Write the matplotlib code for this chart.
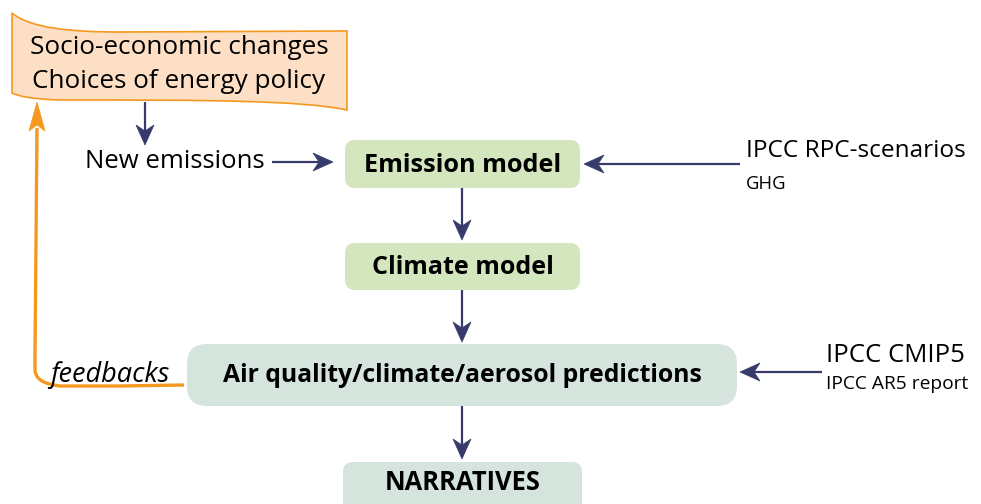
import math
import matplotlib
matplotlib.use("Agg")
import matplotlib.pyplot as plt
from matplotlib.patches import FancyBboxPatch, Polygon, PathPatch
from matplotlib.path import Path

plt.rcParams["font.family"] = ["Open Sans", "DejaVu Sans"]

# ── Content ──────────────────────────────────────────────────────────────────
BANNER_LINES = ["Socio-economic changes", "Choices of energy policy"]
BOX_LABELS = ["Emission model", "Climate model",
              "Air quality/climate/aerosol predictions", "NARRATIVES"]
BOX_COLORS = ["#D3E6BE", "#D3E6BE", "#D5E4DD", "#D5E4DD"]
# box geometry in pixel units: x0, y0, x1, y1
BOX_X0 = [345, 345, 187, 343]
BOX_Y0 = [140, 243, 344, 462]
BOX_X1 = [580, 580, 737, 582]
BOX_Y1 = [188, 290, 406, 520]
BOX_RAD = [10, 10, 20, 10]
BOX_TY = [165, 268, 376, 483]
BOX_FS = [18.2, 18, 17.8, 18.4]

SRC_MAIN = ["IPCC RPC-scenarios", "IPCC CMIP5"]
SRC_SUB = ["GHG", "IPCC AR5 report"]

NAVY = "#373B6C"
ORANGE = "#F5981F"

W, H = 981, 504
fig = plt.figure(figsize=(W / 100, H / 100), dpi=100)
ax = fig.add_axes([0, 0, 1, 1])
ax.set_xlim(0, W)
ax.set_ylim(H, 0)
ax.axis("off")


def arrow(x0, y0, x1, y1, color=NAVY, lw=1.6, hl=20, hw=9, notch=6):
    """line with a concave (stealth) head whose tip is at (x1, y1)"""
    dx, dy = x1 - x0, y1 - y0
    d = math.hypot(dx, dy)
    ux, uy = dx / d, dy / d
    px, py = -uy, ux
    bx, by = x1 - ux * hl, y1 - uy * hl
    nx, ny = x1 - ux * (hl - notch), y1 - uy * (hl - notch)
    ax.plot([x0, nx], [y0, ny], color=color, lw=lw, solid_capstyle="butt")
    ax.add_patch(Polygon([(x1, y1), (bx + px * hw, by + py * hw), (nx, ny),
                          (bx - px * hw, by - py * hw)],
                         closed=True, fc=color, ec=color, lw=0.5))


# ── Banner (wavy scroll) ─────────────────────────────────────────────────────
verts = [(12, 13),
         (30, 28), (70, 32), (120, 32),
         (347, 31),
         (347, 110),
         (300, 100), (200, 100), (60, 100),
         (30, 99), (18, 96), (12, 93),
         (12, 13)]
codes = [Path.MOVETO,
         Path.CURVE4, Path.CURVE4, Path.CURVE4,
         Path.LINETO,
         Path.LINETO,
         Path.CURVE4, Path.CURVE4, Path.CURVE4,
         Path.CURVE4, Path.CURVE4, Path.CURVE4,
         Path.CLOSEPOLY]
ax.add_patch(PathPatch(Path(verts, codes), fc="#FDDFC5", ec=ORANGE, lw=1.2))
ax.text(179, 47, BANNER_LINES[0], ha="center", va="center", fontsize=18.8)
ax.text(179, 81, BANNER_LINES[1], ha="center", va="center", fontsize=18.8)

# ── Boxes ────────────────────────────────────────────────────────────────────
for lab, col, x0, y0, x1, y1, r, ty, fs in zip(BOX_LABELS, BOX_COLORS, BOX_X0,
                                               BOX_Y0, BOX_X1, BOX_Y1, BOX_RAD,
                                               BOX_TY, BOX_FS):
    ax.add_patch(FancyBboxPatch((x0 + r, y0 + r), (x1 - x0) - 2 * r,
                                (y1 - y0) - 2 * r,
                                boxstyle=f"round,pad={r}", fc=col, ec="none"))
    ax.text((x0 + x1) / 2, ty, lab, ha="center", va="center",
            fontsize=fs, fontweight="bold")

# ── Side labels ──────────────────────────────────────────────────────────────
ax.text(85, 162, "New emissions", ha="left", va="center", fontsize=18.5)
ax.text(746, 151, SRC_MAIN[0], ha="left", va="center", fontsize=17.6)
ax.text(746, 184, SRC_SUB[0], ha="left", va="center", fontsize=13.3)
ax.text(826, 356, SRC_MAIN[1], ha="left", va="center", fontsize=18.5)
ax.text(826, 384, SRC_SUB[1], ha="left", va="center", fontsize=13.8)
ax.text(50, 375, "feedbacks", ha="left", va="center", fontsize=19.5,
        style="italic")

# ── Arrows ───────────────────────────────────────────────────────────────────
arrow(145, 102, 145, 145)
arrow(272, 162, 333, 162)
arrow(740, 164, 584, 164)
arrow(462, 188, 462, 240)
arrow(462, 290, 462, 342)
arrow(462, 406, 462, 459)
arrow(822, 372, 740, 372)

# feedback loop (orange)
fb = Path([(184, 385), (120, 386), (60, 386), (46, 384),
           (36, 381), (35, 370), (35, 355), (37, 128)],
          [Path.MOVETO, Path.LINETO, Path.LINETO, Path.CURVE4,
           Path.CURVE4, Path.CURVE4, Path.LINETO, Path.LINETO])
ax.add_patch(PathPatch(fb, fc="none", ec=ORANGE, lw=2.4))
ax.add_patch(Polygon([(37, 102), (29, 131), (37, 125), (45, 131)],
                     closed=True, fc=ORANGE, ec=ORANGE, lw=0.5))

fig.savefig("out.png", dpi=100)
